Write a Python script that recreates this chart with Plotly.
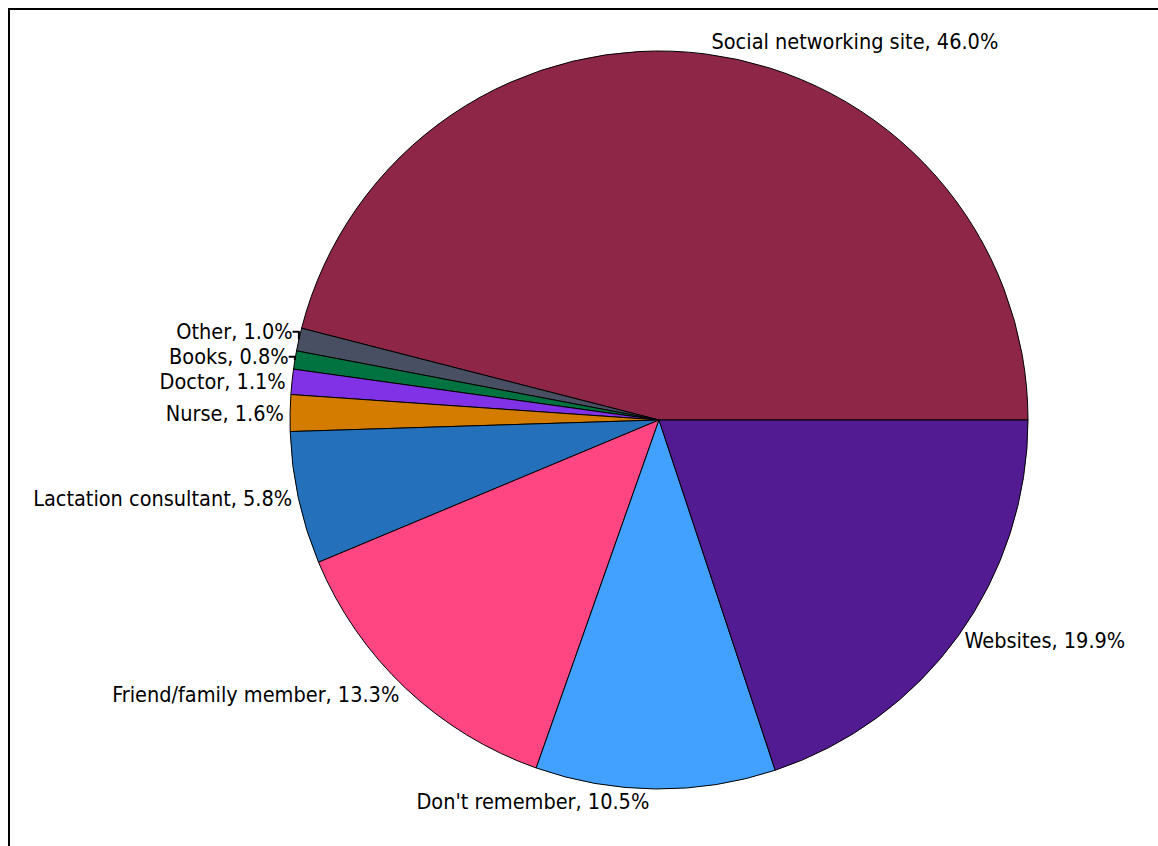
import plotly.graph_objects as go

# Sources of information, share of respondents (%)
sources = [
    "Social networking site",
    "Other",
    "Books",
    "Doctor",
    "Nurse",
    "Lactation consultant",
    "Friend/family member",
    "Don't remember",
    "Websites",
]
shares = [46.0, 1.0, 0.8, 1.1, 1.6, 5.8, 13.3, 10.5, 19.9]
colors = [
    "#8E2648",
    "#494F63",
    "#007341",
    "#8232E6",
    "#D47C00",
    "#2470BA",
    "#FF4682",
    "#42A0FF",
    "#521B92",
]

# first slice begins at 3 o'clock and the slices run counterclockwise
start_rotation = 90 - shares[0] * 360 / sum(shares)

fig = go.Figure(
    go.Pie(
        labels=sources,
        values=shares,
        sort=False,
        direction="counterclockwise",
        rotation=start_rotation,
        marker=dict(colors=colors, line=dict(color="black", width=1)),
        textposition="outside",
        texttemplate="%{label}, %{value:.1f}%",
        textfont=dict(
            family="DejaVu Sans Condensed, sans-serif",
            size=21.5,
            color="black",
        ),
        hoverinfo="label+value",
        showlegend=False,
    )
)

# Frame around the figure area (pixel offsets from the plot-area corner)
fig.add_shape(
    type="rect",
    xref="paper",
    yref="paper",
    xsizemode="pixel",
    ysizemode="pixel",
    xanchor=0,
    yanchor=1,
    x0=-278,
    x1=1100,
    y0=-900,
    y1=42,
    line=dict(color="black", width=2),
    fillcolor="rgba(0,0,0,0)",
    layer="above",
)

fig.update_layout(
    width=1158,
    height=846,
    showlegend=False,
    margin=dict(l=166, r=0, t=51, b=57),
    paper_bgcolor="white",
    plot_bgcolor="white",
)

fig.write_html("out.html")
